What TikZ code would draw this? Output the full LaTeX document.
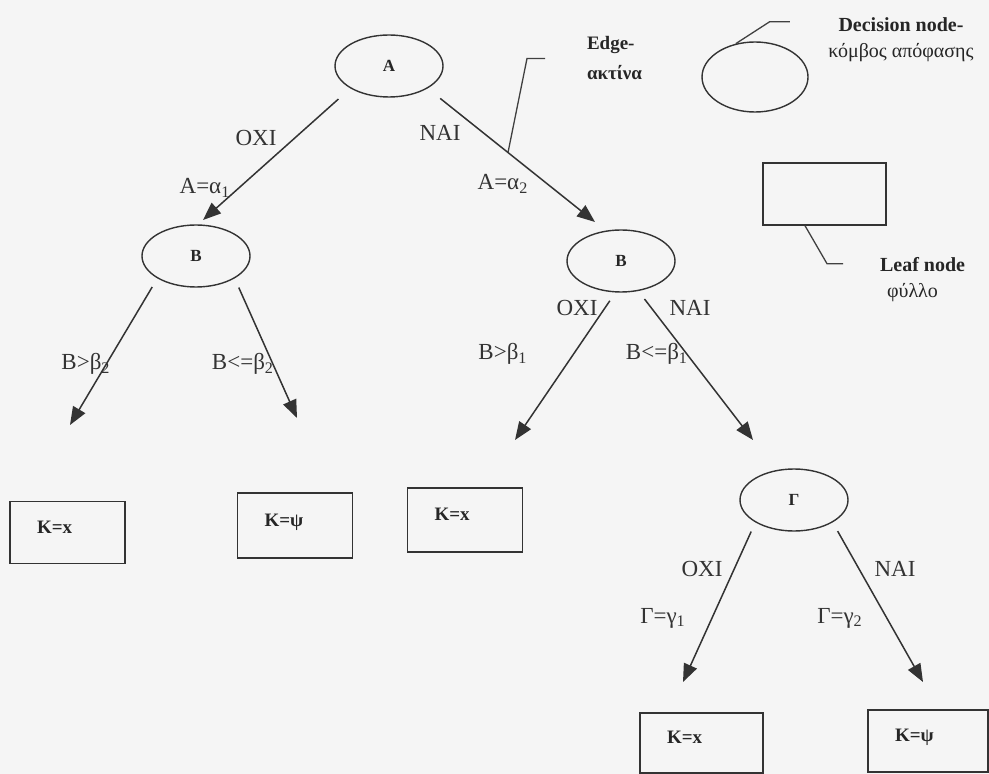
\documentclass[tikz,border=0pt]{standalone}
\usepackage{fontspec}
\setmainfont{Liberation Serif}
\usetikzlibrary{arrows.meta,shapes.geometric}

\tikzset{
  dec/.style={ellipse, draw=black!80, line width=0.7pt, minimum width=54pt, minimum height=31pt,
    inner sep=0pt, text=black!85, font=\bfseries\fontsize{8.5}{10}\selectfont},
  leaf/.style={draw=black!80, line width=0.7pt, minimum height=31pt, inner xsep=13.5pt,
    text width=30.5pt, align=left, text height=6.3pt, text depth=5.8pt, text=black!85,
    font=\bfseries\fontsize{9.5}{11}\selectfont},
  edge/.style={-{Triangle[length=9pt,width=7pt]}, draw=black!80, line width=0.75pt, shorten <=5pt},
  lbl/.style={text=black!80, font=\fontsize{11.5}{13}\selectfont},
  note/.style={text=black!85, font=\fontsize{10}{13}\selectfont},
  pointer/.style={draw=black!75, line width=0.65pt},
}

\begin{document}
\begin{tikzpicture}[x=0.5pt,y=-0.5pt]
	\fill[black!4] (0,0) rectangle (989,774);
	% decision nodes
	\node[dec] (A) at (389,66) {Α};
	\node[dec] (B1) at (196,256) {Β};
	\node[dec] (B2) at (621,261) {Β};
	\node[dec] (G) at (794,500) {Γ};
	% leaves
	\node[leaf] (K1) at (67.5,532.5) {Κ=x};
	\node[leaf, minimum height=32.5pt] (K2) at (295,525.5) {Κ=ψ};
	\node[leaf, minimum height=32pt] (K3) at (465,520) {Κ=x};
	\node[leaf, text width=34.5pt, minimum height=30pt] (K4) at (701.5,743) {Κ=x};
	\node[leaf, text width=33pt] (K5) at (928,741) {Κ=ψ};
	% free ends of the arrows
	\coordinate (tA1) at (203,220);
	\coordinate (tA2) at (595,222);
	\coordinate (tB1a) at (70,425);
	\coordinate (tB1b) at (297,418);
	\coordinate (tB2a) at (515,440);
	\coordinate (tB2b) at (753,440);
	\coordinate (tGa) at (683,682);
	\coordinate (tGb) at (923,682);
	\draw[edge, shorten <=8pt] (A.south west) -- (tA1);
	\draw[edge, shorten <=8pt] (A.south east) -- coordinate[pos=0.48] (pe) (tA2);
	\draw[edge] (B1.south west) -- (tB1a);
	\draw[edge] (B1.south east) -- (tB1b);
	\draw[edge] (B2.260) -- (tB2a);
	\draw[edge] (B2.300) -- (tB2b);
	\draw[edge] (G.south west) -- (tGa);
	\draw[edge] (G.south east) -- (tGb);
	% edge labels
	\node[lbl] (oA) at (256,138) {ΟΧΙ};
	\node[lbl] (nA) at (440,133) {ΝΑΙ};
	\node[lbl] (a1) at (205,188) {Α=α\textsubscript{1}};
	\node[lbl] (a2) at (503,184) {Α=α\textsubscript{2}};
	\node[lbl] (b2a) at (86,364) {Β>β\textsubscript{2}};
	\node[lbl] (b2b) at (243,364) {Β<=β\textsubscript{2}};
	\node[lbl] (oB) at (577,308) {ΟΧΙ};
	\node[lbl] (nB) at (690,308) {ΝΑΙ};
	\node[lbl] (b1a) at (503,354) {Β>β\textsubscript{1}};
	\node[lbl] (b1b) at (657,354) {Β<=β\textsubscript{1}};
	\node[lbl] (oG) at (702,569) {ΟΧΙ};
	\node[lbl] (nG) at (895,569) {ΝΑΙ};
	\node[lbl] (g1) at (663,618) {Γ=γ\textsubscript{1}};
	\node[lbl] (g2) at (840,618) {Γ=γ\textsubscript{2}};
	% legend
	\node[dec, minimum width=53pt, minimum height=35pt] (dn) at (755,77) {};
	\node[leaf, text width=34.5pt] (ln) at (824.5,194) {};
	\node[note, align=center] (dtxt) at (901,40) {{\bfseries Decision node-}\\κόμβος απόφασης};
	\node[note, anchor=west, align=left] (ltxt) at (873,279.5) {{\bfseries Leaf node}\\\hspace*{3.5pt}φύλλο};
	\node[note, anchor=west, align=left, font=\bfseries\fontsize{9.5}{15}\selectfont] (etxt) at (580,58) {Edge-\\ακτίνα};
	\draw[pointer] (dn.120) -- ++(34,-22) -- ++(20,0);
	\draw[pointer] ([xshift=-9.75pt]ln.south) -- ++(22,38) -- ++(16,0);
	\draw[pointer] (pe) -- ++(19,-94) -- ++(18,0);
\end{tikzpicture}
\end{document}
